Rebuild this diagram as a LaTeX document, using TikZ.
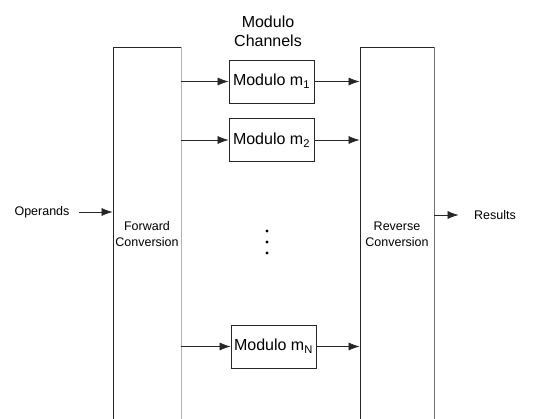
\documentclass[tikz,border=0pt]{standalone}
\usepackage{fontspec}
\setmainfont{Liberation Sans}
\usepackage{tikz}
\usetikzlibrary{positioning}
\usetikzlibrary{arrows.meta}
\newcommand{\bigtxt}{\fontsize{16}{19}\selectfont}
\newcommand{\smalltxt}{\fontsize{12.5}{16}\selectfont}
\tikzset{
	convbox/.style={draw=black!85, line width=0.8pt, minimum height=393pt, inner sep=0pt},
	modbox/.style={draw=black!85, line width=0.8pt, minimum width=85pt, minimum height=43pt, inner sep=1pt, font=\bigtxt},
	flow/.style={-{Latex[length=11pt, width=8pt]}, line width=0.7pt, black!85}
}

\begin{document}
\begin{tikzpicture}[x=1pt, y=-1pt]
	\useasboundingbox (0,0) rectangle (539,419);
	%\draw[step=50pt, black!20!white] (0,0) grid (539,419);
	\node[convbox, minimum width=68pt] (fwd) at (147,243.5){};
	\node[convbox, minimum width=74pt] (rev) at (397,243.5){};
	\draw[black!30, line width=0.8pt] (fwd.north east) -- (fwd.south east);
	\draw[black!55, line width=0.8pt] (rev.north east) -- (rev.south east);
	\node[font=\smalltxt, align=center] (fwdtxt) at (147,234){Forward\\Conversion};
	\node[font=\smalltxt, align=center] (revtxt) at (397,234){Reverse\\Conversion};
	\node[font=\bigtxt, align=center] (chan) at (268,31){Modulo\\Channels};
	\node[modbox] (m1) at (271.5,81.5){Modulo m\textsubscript{1}};
	\node[modbox] (m2) at (271.5,140){Modulo m\textsubscript{2}};
	\node[modbox] (mN) at (273.5,346.5){Modulo m\textsubscript{N}};
	\node[font=\smalltxt] (ops) at (42,212){Operands};
	\node[font=\smalltxt] (res) at (495,215){Results};
	\foreach \y in {231,242,253}
		\fill (267,\y) circle (1.6pt);
	\draw[flow] (ops.east) ++(6,0) coordinate (opsend) -- (opsend -| fwd.west);
	\draw[flow] (m1 -| fwd.east) -- (m1.west);
	\draw[flow] (m2 -| fwd.east) -- (m2.west);
	\draw[flow] (mN -| fwd.east) -- (mN.west);
	\draw[flow] (m1.east) -- (m1 -| rev.west);
	\draw[flow] (m2.east) -- (m2 -| rev.west);
	\draw[flow] (mN.east) -- (mN -| rev.west);
	\draw[flow] (res -| rev.east) -- ([xshift=-12pt]res.west);
\end{tikzpicture}
\end{document}
